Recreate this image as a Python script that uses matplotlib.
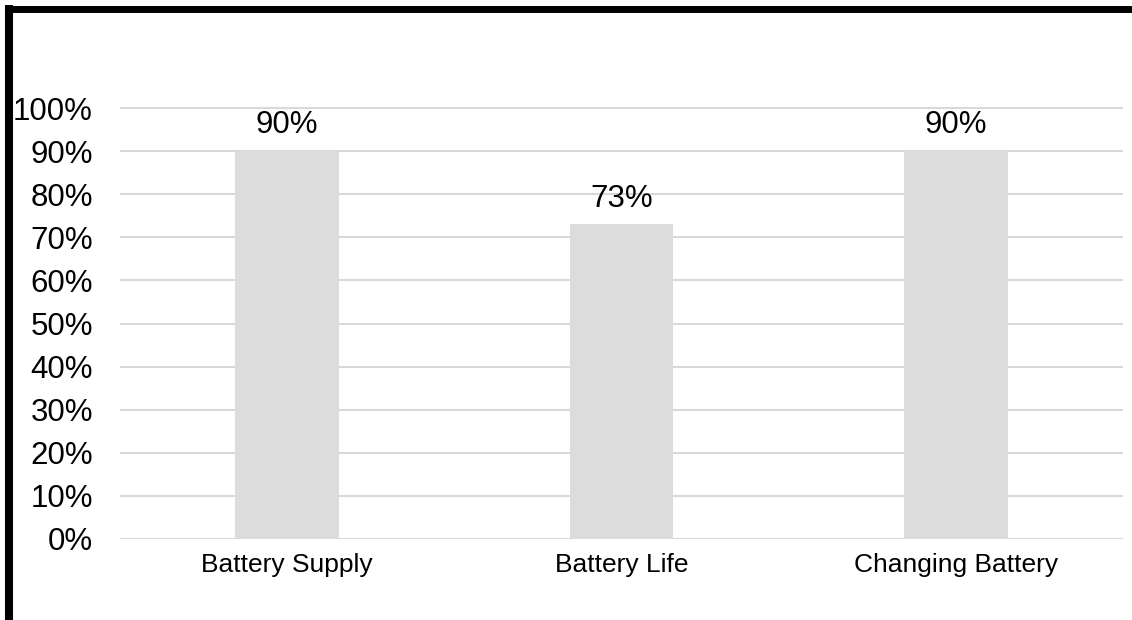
import numpy as np
import matplotlib.pyplot as plt
from matplotlib.lines import Line2D

# -----------------------------
# Data
# -----------------------------
categories = ["Battery Supply", "Battery Life", "Changing Battery"]
values = [0.90, 0.73, 0.90]
tick_values = [0.0, 0.1, 0.2, 0.3, 0.4, 0.5, 0.6, 0.7, 0.8, 0.9, 1.0]

plt.rcParams['font.family'] = ['Liberation Sans', 'DejaVu Sans']

W, H = 1132, 620
fig = plt.figure(figsize=(W / 100, H / 100), dpi=100)

# axes box in pixels: x 120..1123, y(0%)=539, y(110%)=65
ax = fig.add_axes([120 / W, 1 - 539 / H, (1123 - 120) / W, (539 - 65) / H])

x = np.arange(len(categories))
ax.bar(x, values, width=0.31, color="#dcdcdc", zorder=2)

for xi, v in zip(x, values):
    ax.text(xi, v + 0.025, f"{v * 100:.0f}%", ha="center", va="bottom",
            fontsize=22.5, color="black")

ax.set_xlim(-0.5, len(categories) - 0.5)
ax.set_ylim(0, 1.1)
ax.set_yticks(tick_values)
ax.set_yticklabels([f"{t * 100:.0f}%" for t in tick_values], fontsize=22.5)
ax.set_xticks(x)
ax.set_xticklabels(categories, fontsize=19)

ax.yaxis.grid(True, color="#d9d9d9", linewidth=1.5, zorder=0)
ax.set_axisbelow(True)
ax.tick_params(axis="both", length=0)
ax.tick_params(axis="y", pad=19.5)
ax.tick_params(axis="x", pad=10)
for s in ax.spines.values():
    s.set_visible(False)

# -----------------------------
# Black frame (left + top)
# -----------------------------
fig.add_artist(Line2D([9 / W, 9 / W], [0, 1 - 5 / H], transform=fig.transFigure,
                      color="black", linewidth=5.8, solid_capstyle="butt"))
fig.add_artist(Line2D([5 / W, 1], [1 - 8.5 / H, 1 - 8.5 / H], transform=fig.transFigure,
                      color="black", linewidth=5.0, solid_capstyle="butt"))

fig.savefig("out.png", dpi=100)
